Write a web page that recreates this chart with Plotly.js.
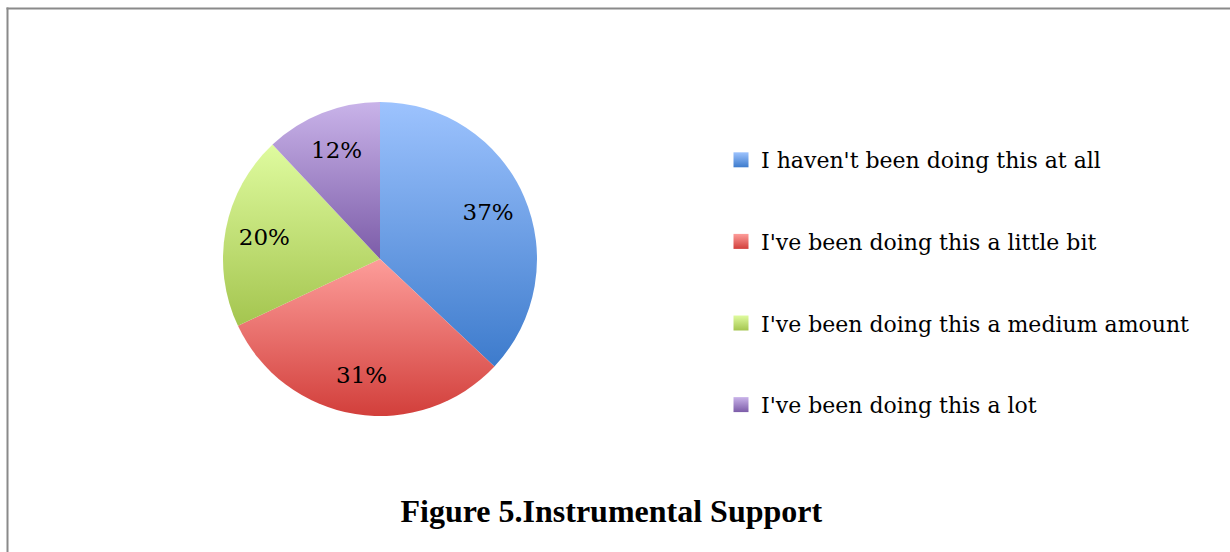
<!DOCTYPE html>
<html>
<head>
<meta charset="utf-8">
<script src="https://cdn.plot.ly/plotly-3.0.1.min.js"></script>
<style>
  html, body { margin: 0; padding: 0; background: #ffffff; }
  #chart { width: 1230px; height: 552px; }
</style>
</head>
<body>
<div id="chart"></div>
<script>
// ---- data ----
const categories = [
  "I haven't been doing this at all",
  "I've been doing this a little bit",
  "I've been doing this a medium amount",
  "I've been doing this a lot"
];
const values = [37, 31, 20, 12];
const chartTitle = "Figure 5.Instrumental Support";

// ---- styles ----
const baseColors = ["#6f9fe6", "#ea6f6b", "#c3e27c", "#a489cc"];
const gradTop    = ["#9dc3fe", "#fd9d9a", "#dffb9f", "#c9b3e9"];
const gradBottom = ["#3d7bcc", "#d23f3b", "#a4c54f", "#7c5ca8"];
const labelFont = "DejaVu Serif, serif";

const pieDomain = { x: [(380 - 157) / 1230, (380 + 157) / 1230], y: [1 - 416 / 552, 1 - 102 / 552] };

// coloured full pie (no text)
const pie = {
  type: "pie",
  labels: categories,
  values: values,
  sort: false,
  direction: "clockwise",
  rotation: 0,
  textinfo: "none",
  marker: { colors: baseColors, line: { width: 0 } },
  domain: pieDomain,
  showlegend: false,
  hoverinfo: "label+percent"
};

// transparent ring on top, only to carry the percentage labels further out
const pieLabels = {
  type: "pie",
  labels: categories,
  values: values,
  sort: false,
  direction: "clockwise",
  rotation: 0,
  hole: 0.5,
  textinfo: "percent",
  textposition: "inside",
  insidetextorientation: "horizontal",
  textfont: { family: labelFont, size: 23, color: "#000000" },
  marker: { colors: categories.map(() => "rgba(0,0,0,0)"), line: { width: 0 } },
  domain: pieDomain,
  showlegend: false,
  hoverinfo: "skip"
};

// legend-only entries (one per category) so that the row spacing can match
const legendTraces = categories.map((c, i) => ({
  type: "scatter",
  mode: "markers",
  x: [null], y: [null],
  name: c,
  legendgroup: "g" + i,
  marker: { symbol: "square", size: 15, color: baseColors[i], line: { width: 0 } },
  showlegend: true,
  hoverinfo: "skip"
}));

const layout = {
  width: 1230,
  height: 552,
  margin: { l: 0, r: 0, t: 0, b: 0 },
  paper_bgcolor: "#ffffff",
  plot_bgcolor: "#ffffff",
  xaxis: { visible: false },
  yaxis: { visible: false },
  title: {
    text: "<b>" + chartTitle + "</b>",
    font: { family: "Liberation Serif, Times New Roman, serif", size: 32, color: "#000000" },
    x: 0.497, xref: "container", xanchor: "center",
    y: 1 - 511 / 552, yref: "container", yanchor: "middle"
  },
  legend: {
    x: 721 / 1230, xanchor: "left",
    y: 1 - 139 / 552, yanchor: "top",
    traceorder: "grouped",
    tracegroupgap: 50,
    font: { family: labelFont, size: 22, color: "#000000" },
    bgcolor: "rgba(0,0,0,0)",
    borderwidth: 0
  },
  shapes: [
    { type: "line", xref: "paper", yref: "paper", x0: 6.5 / 1230, x1: 1, y0: 1 - 8.5 / 552, y1: 1 - 8.5 / 552, line: { color: "#8a8a8a", width: 2 } },
    { type: "line", xref: "paper", yref: "paper", x0: 7.5 / 1230, x1: 7.5 / 1230, y0: 0, y1: 1 - 7.5 / 552, line: { color: "#8a8a8a", width: 2 } }
  ],
  showlegend: true
};

function applyGradients(gd) {
  const svg = gd.querySelector("svg.main-svg");
  if (!svg) return;
  let defs = svg.querySelector("defs");
  if (!defs) {
    defs = document.createElementNS("http://www.w3.org/2000/svg", "defs");
    svg.insertBefore(defs, svg.firstChild);
  }
  categories.forEach((c, i) => {
    const id = "sliceGrad" + i;
    if (!document.getElementById(id)) {
      const g = document.createElementNS("http://www.w3.org/2000/svg", "linearGradient");
      g.setAttribute("id", id);
      g.setAttribute("x1", "0"); g.setAttribute("y1", "0");
      g.setAttribute("x2", "0"); g.setAttribute("y2", "1");
      const s1 = document.createElementNS("http://www.w3.org/2000/svg", "stop");
      s1.setAttribute("offset", "0"); s1.setAttribute("stop-color", gradTop[i]);
      const s2 = document.createElementNS("http://www.w3.org/2000/svg", "stop");
      s2.setAttribute("offset", "1"); s2.setAttribute("stop-color", gradBottom[i]);
      g.appendChild(s1); g.appendChild(s2);
      defs.appendChild(g);
    }
  });
  const traces = gd.querySelectorAll(".pielayer .trace");
  if (traces.length) {
    traces[0].querySelectorAll(".slice path.surface").forEach((p, i) => {
      p.style.fill = "url(#sliceGrad" + (i % categories.length) + ")";
    });
  }
  gd.querySelectorAll(".legend .traces").forEach((t, i) => {
    t.querySelectorAll(".legendpoints path").forEach(p => {
      p.style.fill = "url(#sliceGrad" + (i % categories.length) + ")";
    });
  });
}

const gd = document.getElementById("chart");
Plotly.newPlot(gd, [pie, pieLabels].concat(legendTraces), layout, { displayModeBar: false, staticPlot: true })
  .then(() => applyGradients(gd));
</script>
</body>
</html>
